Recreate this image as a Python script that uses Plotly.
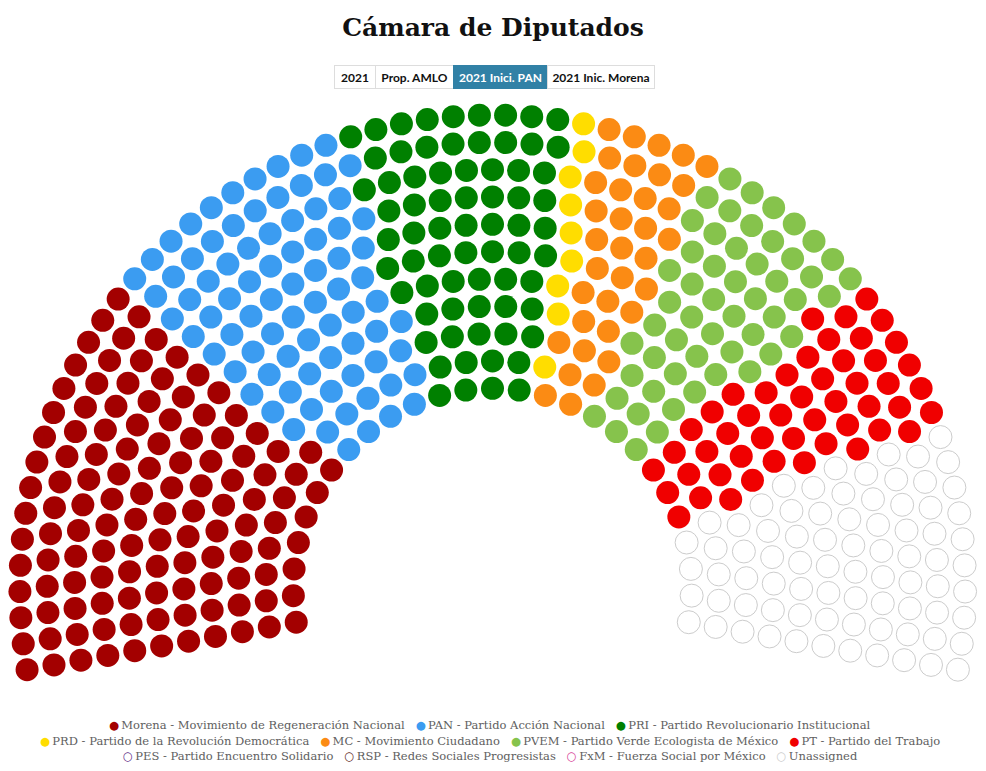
import math
import plotly.graph_objects as go

# ---------------- data ----------------
TITLE = "Cámara de Diputados"
SCENARIOS = ["2021", "Prop. AMLO", "2021 Inici. PAN", "2021 Inic. Morena"]
ACTIVE_SCENARIO = 2

PARTY_CODES = ["Morena", "PAN", "PRI", "PRD", "MC", "PVEM", "PT",
               "PES", "RSP", "FxM", "Unassigned"]
PARTY_NAMES = ["Movimiento de Regeneración Nacional",
               "Partido Acción Nacional",
               "Partido Revolucionario Institucional",
               "Partido de la Revolución Democrática",
               "Movimiento Ciudadano",
               "Partido Verde Ecologista de México",
               "Partido del Trabajo",
               "Partido Encuentro Solidario",
               "Redes Sociales Progresistas",
               "Fuerza Social por México",
               ""]
SEATS = [123, 82, 70, 9, 35, 54, 49, 0, 0, 0, 78]
COLORS = ["#a30000", "#3b9cf1", "#008000", "#ffdd00", "#fb8b14", "#86c34c",
          "#f00000", "#5b2a86", "#5c2316", "#d63a93", "#cccccc"]

# ---------------- layout parameters ----------------
W, H = 986, 771
CX, CY = 492.5, 587.6          # centre of the hemicycle (px)
R_IN, R_OUT, N_ROWS = 199.3, 472.6, 11
START_ANGLE, END_ANGLE = -100.0, 100.0   # degrees from vertical, clockwise
MARKER_SIZE = 23
LEGEND_ROWS = [[0, 1, 2], [3, 4, 5, 6], [7, 8, 9, 10]]
LEGEND_Y = [725, 741, 756]
LEGEND_X = 490
BUTTON_LEFT, BUTTON_Y, BUTTON_H = 334, 76.5, 23
BUTTON_W = [41, 78, 94, 107]

# ---------------- parliament layout ----------------
total = sum(SEATS)
radii = [R_IN + i * (R_OUT - R_IN) / (N_ROWS - 1) for i in range(N_ROWS)]
quotas = [total * r / sum(radii) for r in radii]
row_counts = [math.floor(q) for q in quotas]
left = total - sum(row_counts)
for i in sorted(range(N_ROWS), key=lambda i: quotas[i] - row_counts[i], reverse=True)[:left]:
    row_counts[i] += 1

span = END_ANGLE - START_ANGLE
slots = []
for k, (r, n) in enumerate(zip(radii, row_counts)):
    for j in range(n):
        frac = span * j / (n - 1)
        slots.append((round(frac, 6), k, r, START_ANGLE + frac))
slots.sort(key=lambda s: (s[0], s[1]))

fig = go.Figure()
pos = 0
for code, name, n, color in zip(PARTY_CODES, PARTY_NAMES, SEATS, COLORS):
    part = slots[pos:pos + n]
    pos += n
    if not part:
        continue
    xs = [CX + s[2] * math.sin(math.radians(s[3])) for s in part]
    ys = [CY - s[2] * math.cos(math.radians(s[3])) for s in part]
    label = f"{code} - {name}" if name else code
    if code == "Unassigned":
        marker = dict(size=MARKER_SIZE, color="white",
                      line=dict(color=color, width=1))
    else:
        marker = dict(size=MARKER_SIZE, color=color, line=dict(width=0))
    fig.add_trace(go.Scatter(
        x=xs, y=ys, mode="markers", marker=marker, name=label,
        showlegend=False,
        hovertemplate=f"{label}<br>Escaños: {n}<extra></extra>"))

annotations = []
# legend (centred rows, as in the reference)
for row, yy in zip(LEGEND_ROWS, LEGEND_Y):
    items = []
    for i in row:
        hollow = SEATS[i] == 0 or PARTY_CODES[i] == "Unassigned"
        sym = "○" if hollow else "●"
        label = f"{PARTY_CODES[i]} - {PARTY_NAMES[i]}" if PARTY_NAMES[i] else PARTY_CODES[i]
        items.append(f'<span style="color:{COLORS[i]}">{sym}</span>\u2009{label}')
    annotations.append(dict(
        x=LEGEND_X, y=yy, xref="x", yref="y", showarrow=False,
        xanchor="center", yanchor="middle",
        text="\u00a0\u00a0\u00a0".join(items),
        font=dict(family="DejaVu Serif", size=11.5, color="#606060")))

# scenario buttons
xl = BUTTON_LEFT
for i, (lab, bw) in enumerate(zip(SCENARIOS, BUTTON_W)):
    active = i == ACTIVE_SCENARIO
    annotations.append(dict(
        x=xl + bw / 2, y=BUTTON_Y, xref="x", yref="y", showarrow=False,
        xanchor="center", yanchor="middle",
        text=f"<b>{lab}</b>", width=bw - 1, height=BUTTON_H - 1,
        bgcolor="#3181a6" if active else "white",
        bordercolor="#3181a6" if active else "#dddddd", borderwidth=1,
        borderpad=0,
        font=dict(family="Lato", size=12, color="white" if active else "#111111")))
    xl += bw

fig.update_layout(
    width=W, height=H, autosize=False,
    margin=dict(l=0, r=0, t=0, b=0),
    paper_bgcolor="white", plot_bgcolor="white",
    title=dict(text=f"<b>{TITLE}</b>", x=0.5, xanchor="center",
               y=1 - 27 / H, yanchor="middle",
               font=dict(family="DejaVu Serif", size=25, color="#111111")),
    xaxis=dict(range=[0, W], visible=False, fixedrange=True),
    yaxis=dict(range=[H, 0], visible=False, fixedrange=True),
    annotations=annotations,
    showlegend=False,
    hovermode="closest",
)

fig.write_html("out.html", config={"displayModeBar": False},
               post_script="document.body.style.margin='0px';")
